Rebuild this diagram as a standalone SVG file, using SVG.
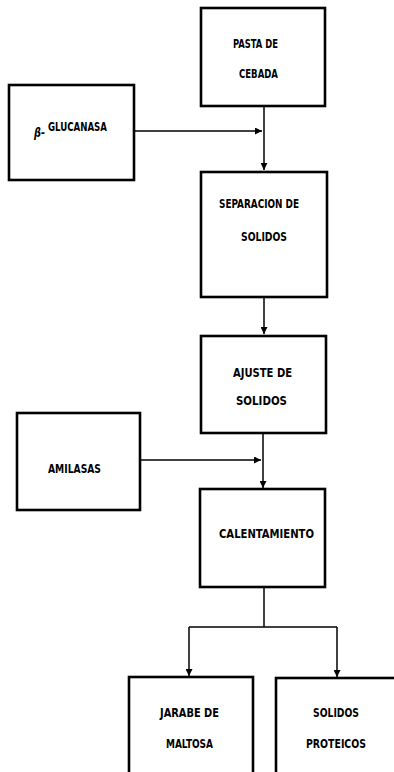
<svg xmlns="http://www.w3.org/2000/svg" width="394" height="772" viewBox="0 0 394 772">
<defs>
<marker id="ah" viewBox="0 0 10 10" refX="10" refY="5" markerWidth="7" markerHeight="7" markerUnits="userSpaceOnUse" orient="auto">
<path d="M0,0 L10,5 L0,10 z" fill="#000"/>
</marker>
<style>
.box{fill:#fff;stroke:#000;stroke-width:2.6}
.t{font-family:"DejaVu Sans Condensed","DejaVu Sans",sans-serif;font-weight:bold;font-size:13px;fill:#000}
.c{fill:none;stroke:#000;stroke-width:1.5}
</style>
</defs>
<rect width="394" height="772" fill="#fff"/>
<g id="connectors">
<path class="c" d="M264,106 V170" marker-end="url(#ah)"/>
<path class="c" d="M134,131 H262" marker-end="url(#ah)"/>
<path class="c" d="M264,297 V334" marker-end="url(#ah)"/>
<path class="c" d="M263,433 V488" marker-end="url(#ah)"/>
<path class="c" d="M140,460 H261" marker-end="url(#ah)"/>
<path class="c" d="M264,587 V627"/>
<path class="c" d="M189,627 H337"/>
<path class="c" d="M189,627 V676" marker-end="url(#ah)"/>
<path class="c" d="M337,627 V677" marker-end="url(#ah)"/>
</g>
<g id="pasta">
<rect class="box" x="201" y="8" width="124" height="98"/>
<text class="t" x="233" y="48" textLength="45" lengthAdjust="spacingAndGlyphs">PASTA DE</text>
<text class="t" x="239" y="78" textLength="39" lengthAdjust="spacingAndGlyphs">CEBADA</text>
</g>
<g id="glucanasa">
<rect class="box" x="9" y="85" width="125" height="95"/>
<text class="t" x="34" y="137" font-size="8" font-style="italic" textLength="11" lengthAdjust="spacingAndGlyphs">β-</text>
<text class="t" x="48" y="131" font-size="12" textLength="59" lengthAdjust="spacingAndGlyphs">GLUCANASA</text>
</g>
<g id="separacion">
<rect class="box" x="201" y="172" width="126" height="125"/>
<text class="t" x="219" y="208" textLength="80" lengthAdjust="spacingAndGlyphs">SEPARACION DE</text>
<text class="t" x="241" y="241" textLength="46" lengthAdjust="spacingAndGlyphs">SOLIDOS</text>
</g>
<g id="ajuste">
<rect class="box" x="201" y="336" width="125" height="97"/>
<text class="t" x="233" y="377" textLength="59" lengthAdjust="spacingAndGlyphs">AJUSTE DE</text>
<text class="t" x="236" y="405" textLength="51" lengthAdjust="spacingAndGlyphs">SOLIDOS</text>
</g>
<g id="amilasas">
<rect class="box" x="17" y="413" width="123" height="97"/>
<text class="t" x="48" y="473" textLength="53" lengthAdjust="spacingAndGlyphs">AMILASAS</text>
</g>
<g id="calentamiento">
<rect class="box" x="200" y="489" width="125" height="98"/>
<text class="t" x="219" y="538" textLength="95" lengthAdjust="spacingAndGlyphs">CALENTAMIENTO</text>
</g>
<g id="jarabe">
<rect class="box" x="129" y="677" width="124" height="110"/>
<text class="t" x="160" y="717" textLength="59" lengthAdjust="spacingAndGlyphs">JARABE DE</text>
<text class="t" x="166" y="748" textLength="47" lengthAdjust="spacingAndGlyphs">MALTOSA</text>
</g>
<g id="proteicos">
<rect class="box" x="276" y="678" width="130" height="110"/>
<text class="t" x="313" y="717" textLength="46" lengthAdjust="spacingAndGlyphs">SOLIDOS</text>
<text class="t" x="306" y="748" textLength="60" lengthAdjust="spacingAndGlyphs">PROTEICOS</text>
</g>
</svg>
